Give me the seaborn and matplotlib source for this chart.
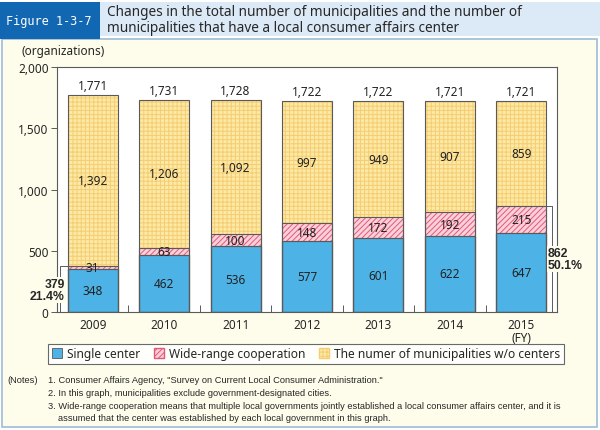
import numpy as np
import pandas as pd
import matplotlib
matplotlib.use('Agg')
import matplotlib.pyplot as plt
import seaborn as sns
from matplotlib.patches import Rectangle, Patch

# data (fiscal years)
years = ['2009', '2010', '2011', '2012', '2013', '2014', '2015']
year_labels = ['2009', '2010', '2011', '2012', '2013', '2014', '2015\n(FY)']
single = [348, 462, 536, 577, 601, 622, 647]
wide = [31, 63, 100, 148, 172, 192, 215]
without = [1392, 1206, 1092, 997, 949, 907, 859]

df = pd.DataFrame({'year': years, 'single': single, 'wide': wide, 'without': without})
df['with_center'] = df['single'] + df['wide']
df['total'] = df['with_center'] + df['without']

blue = '#4db3e6'
pink = '#fbd0da'
pink_hatch = '#e25a78'
yellow = '#fde9a6'
yellow_hatch = '#f5cd72'
outline = '#5a5a5a'
cream = '#fefdec'

sns.set_theme(style='white')
plt.rcParams['font.family'] = ['Noto Sans', 'DejaVu Sans']
plt.rcParams['hatch.linewidth'] = 0.7

fig = plt.figure(figsize=(6, 4.31), dpi=100)
fig.patch.set_facecolor('white')

W, H = 600, 431
def fx(px):
    return px / W
def fy(py):
    return 1 - py / H

# frame and header (behind the axes)
fig.patches.append(Rectangle((fx(2), fy(428)), fx(595), (428 - 40) / H, transform=fig.transFigure,
                             facecolor=cream, edgecolor='#9fbcd8', linewidth=1.2, zorder=-3))
fig.patches.append(Rectangle((fx(100), fy(37)), fx(500), 34 / H, transform=fig.transFigure,
                             facecolor='#dce9f6', edgecolor='none', zorder=-2))
fig.patches.append(Rectangle((0, fy(40)), fx(100), 37 / H, transform=fig.transFigure,
                             facecolor='#1167b1', edgecolor='none', zorder=-2))
fig.text(fx(49), fy(22), 'Figure 1-3-7', color='white', fontsize=8.6, ha='center', va='center',
         family=['DejaVu Sans Mono'])
fig.text(fx(107), fy(12), 'Changes in the total number of municipalities and the number of',
         fontsize=9.8, ha='left', va='center')
fig.text(fx(107), fy(29), 'municipalities that have a local consumer affairs center',
         fontsize=9.8, ha='left', va='center')
fig.text(fx(21), fy(52), '(organizations)', fontsize=8.5, ha='left', va='center')

ax = fig.add_axes([fx(57), fy(313), 500 / W, 245 / H])
ax.set_facecolor('white')

# stacked bars drawn as cumulative layers, back to front
layers = [('total', yellow, yellow_hatch, '++++'),
          ('with_center', pink, pink_hatch, '//////'),
          ('single', blue, None, None)]
for col, fc, hc, hatch in layers:
    n0 = len(ax.patches)
    sns.barplot(data=df, x='year', y=col, color=fc, saturation=1, width=0.7, ax=ax)
    for p in ax.patches[n0:]:
        p.set_facecolor(fc)
        if hatch:
            p.set_hatch(hatch)
            p.set_edgecolor(hc)
            p.set_linewidth(0)
        else:
            p.set_edgecolor(outline)
            p.set_linewidth(0.8)

for p in list(ax.patches):
    ax.add_patch(Rectangle(p.get_xy(), p.get_width(), p.get_height(), fill=False,
                           edgecolor=outline, linewidth=0.8, zorder=3))

lab_kw = dict(ha='center', va='center', fontsize=8.5, color='#222222', zorder=4)
for i, row in df.iterrows():
    ax.text(i, row['single'] / 2, f"{row['single']:,}", **lab_kw)
    ax.text(i, row['single'] + row['wide'] / 2, f"{row['wide']:,}", **lab_kw)
    ax.text(i, row['with_center'] + row['without'] / 2, f"{row['without']:,}", **lab_kw)
    ax.text(i, row['total'] + 25, f"{row['total']:,}", ha='center', va='bottom',
            fontsize=8.5, color='#222222')

# brackets for share of municipalities with a center
bold_kw = dict(va='center', fontsize=8.8, fontweight='bold', linespacing=1.05, zorder=5,
               clip_on=False, family=['Liberation Sans', 'DejaVu Sans'],
               bbox=dict(facecolor=cream, edgecolor='none', pad=0.5))
first, last = df.iloc[0], df.iloc[-1]
ax.plot([-0.35, -0.46, -0.46], [first['with_center'], first['with_center'], 0],
        color=outline, lw=0.7, clip_on=False, zorder=2)
ax.text(-0.39, 180, f"{first['with_center']}\n{first['with_center'] / first['total'] * 100:.1f}%",
        ha='right', **bold_kw)
ax.plot([6.35, 6.43, 6.43], [last['with_center'], last['with_center'], 0],
        color=outline, lw=0.7, clip_on=False, zorder=2)
ax.text(6.37, 433, f"{last['with_center']}\n{last['with_center'] / last['total'] * 100:.1f}%",
        ha='left', **bold_kw)

ax.set_xlim(-0.5, 6.5)
ax.set_ylim(0, 2000)
yt = [0, 500, 1000, 1500, 2000]
ax.set_yticks(yt)
ax.set_yticklabels([f'{v:,}' for v in yt], fontsize=8.5)
ax.set_xticks(range(len(years)))
ax.set_xticklabels(year_labels, fontsize=8.5, linespacing=1.0)
ax.set_xticks([i + 0.5 for i in range(len(years) - 1)], minor=True)
ax.tick_params(axis='y', left=True, length=4, width=0.7, color=outline, pad=2, direction='out')
ax.tick_params(axis='x', which='major', bottom=False, length=0, pad=4)
ax.tick_params(axis='x', which='minor', bottom=True, length=5, width=0.7, color=outline,
               direction='in')
ax.set_xlabel('')
ax.set_ylabel('')
for s in ax.spines.values():
    s.set_visible(True)
    s.set_color(outline)
    s.set_linewidth(0.8)

handles = [Patch(facecolor=blue, edgecolor=outline, linewidth=0.6, label='Single center'),
           Patch(facecolor=pink, edgecolor=pink_hatch, hatch='//////', label='Wide-range cooperation'),
           Patch(facecolor=yellow, edgecolor=yellow_hatch, hatch='++++',
                 label='The numer of municipalities w/o centers')]
leg = fig.legend(handles=handles, loc='center', bbox_to_anchor=(fx(306), fy(355)), ncol=3,
                 frameon=True, fancybox=False, edgecolor='#444444', facecolor='white',
                 fontsize=8.6, handlelength=0.9, handleheight=0.9, handletextpad=0.4,
                 columnspacing=1.1, borderpad=0.3, borderaxespad=0)
leg.get_frame().set_linewidth(0.8)

note_kw = dict(fontsize=6.7, ha='left', va='center', family=['Liberation Sans', 'DejaVu Sans'])
fig.text(fx(7), fy(381), '(Notes)', **note_kw)
fig.text(fx(48), fy(381), '1. Consumer Affairs Agency, "Survey on Current Local Consumer Administration."', **note_kw)
fig.text(fx(48), fy(394), '2. In this graph, municipalities exclude government-designated cities.', **note_kw)
fig.text(fx(48), fy(407), '3. Wide-range cooperation means that multiple local governments jointly established a local consumer affairs center, and it is', **note_kw)
fig.text(fx(58), fy(419), 'assumed that the center was established by each local government in this graph.', **note_kw)

fig.savefig('out.png', dpi=100, facecolor=fig.get_facecolor())
